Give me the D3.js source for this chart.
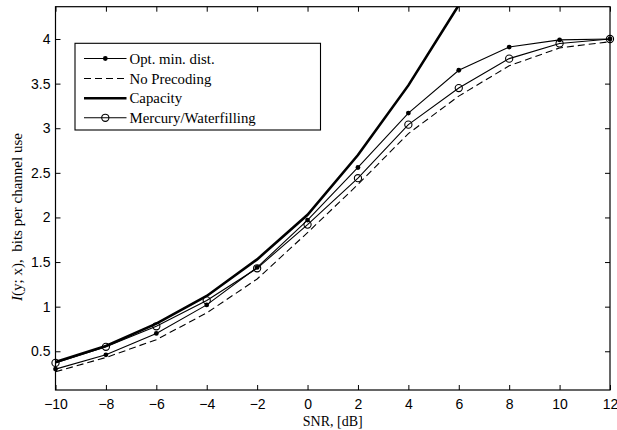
<!DOCTYPE html>
<html><head><meta charset="utf-8">
<script src="https://cdn.jsdelivr.net/npm/d3@7"></script>
<style>body{margin:0;background:#fff}svg{display:block}</style>
</head><body>
<svg id="c" width="617" height="430"></svg>
<script>
const snr = [-10,-8,-6,-4,-2,0,2,4,6,8,10,12];
const optMin = [0.30,0.46,0.70,1.02,1.44,1.97,2.56,3.17,3.65,3.91,3.99,4.00];
const noPrec = [0.27,0.43,0.63,0.93,1.31,1.83,2.37,2.94,3.36,3.70,3.90,3.97];
const capacity = [0.38,0.56,0.81,1.12,1.53,2.03,2.70,3.48,4.38,5.40,6.50,7.70];
const mercury = [0.37,0.55,0.78,1.07,1.43,1.92,2.44,3.04,3.45,3.78,3.95,4.00];
const xTicks = [-10,-8,-6,-4,-2,0,2,4,6,8,10,12];
const yTicks = [0.5,1,1.5,2,2.5,3,3.5,4];
const legendLabels = ["Opt. min. dist.","No Precoding","Capacity","Mercury/Waterfilling"];

const L=55.5,R=610,T=6.7,B=390;
const svg=d3.select("#c");
const x=d3.scaleLinear().domain([-10,12]).range([L,R]);
const y=d3.scaleLinear().domain([0.066,4.362]).range([B,T]);

svg.append("defs").append("clipPath").attr("id","clip")
  .append("rect").attr("x",L).attr("y",T).attr("width",R-L).attr("height",B-T);

const fmt=d=>String(d).replace("-","\u2212");
const tickFont="'Liberation Sans', Arial, sans-serif";
const gx=svg.append("g").attr("transform",`translate(0,${B})`)
  .call(d3.axisBottom(x).tickValues(xTicks).tickSize(-5).tickPadding(9).tickFormat(fmt));
const gxt=svg.append("g").attr("transform",`translate(0,${T})`)
  .call(d3.axisTop(x).tickValues(xTicks).tickSize(-5).tickFormat(""));
const gy=svg.append("g").attr("transform",`translate(${L},0)`)
  .call(d3.axisLeft(y).tickValues(yTicks).tickSize(-5).tickPadding(5).tickFormat(d=>d));
const gyr=svg.append("g").attr("transform",`translate(${R},0)`)
  .call(d3.axisRight(y).tickValues(yTicks).tickSize(-5).tickFormat(""));
[gx,gxt,gy,gyr].forEach(g=>{
  g.select(".domain").remove();
  g.selectAll("line").attr("stroke","#000").attr("stroke-width",1);
  g.selectAll("text").attr("font-family",tickFont).attr("font-size","14px").attr("fill","#000");
});
svg.append("rect").attr("x",L).attr("y",T).attr("width",R-L).attr("height",B-T)
  .attr("fill","none").attr("stroke","#000").attr("stroke-width",1.2);

const line=arr=>d3.line().x((d,i)=>x(snr[i])).y(d=>y(d))(arr);
const plot=svg.append("g").attr("clip-path","url(#clip)");
plot.append("path").attr("d",line(noPrec)).attr("fill","none").attr("stroke","#000")
  .attr("stroke-width",1.1).attr("stroke-dasharray","7,4");
plot.append("path").attr("d",line(capacity)).attr("fill","none").attr("stroke","#000")
  .attr("stroke-width",2.6);
plot.append("path").attr("d",line(optMin)).attr("fill","none").attr("stroke","#000").attr("stroke-width",1.1);
plot.append("path").attr("d",line(mercury)).attr("fill","none").attr("stroke","#000").attr("stroke-width",1.1);
svg.append("g").selectAll("circle").data(optMin).join("circle")
  .attr("cx",(d,i)=>x(snr[i])).attr("cy",d=>y(d)).attr("r",2.4).attr("fill","#000");
svg.append("g").selectAll("circle").data(mercury).join("circle")
  .attr("cx",(d,i)=>x(snr[i])).attr("cy",d=>y(d)).attr("r",3.6).attr("fill","none")
  .attr("stroke","#000").attr("stroke-width",1.1);

const serif="'Liberation Serif','Times New Roman',serif";
svg.append("text").attr("x",(L+R)/2).attr("y",426).attr("text-anchor","middle")
  .attr("font-family",serif).attr("font-size","14px").text("SNR, [dB]");
const yl=svg.append("text").attr("transform","translate(22,217) rotate(-90)")
  .attr("text-anchor","middle").attr("font-family",serif).attr("font-size","15px");
yl.append("tspan").attr("font-style","italic").text("I");
yl.append("tspan").text("(y; x),\u2002bits per channel use");

const lg=svg.append("g");
lg.append("rect").attr("x",75).attr("y",43.3).attr("width",245.5).attr("height",86.7)
  .attr("fill","#fff").attr("stroke","#000").attr("stroke-width",1.1);
const rows=[58.5,78.5,98.3,117.8];
legendLabels.forEach((lab,i)=>{
  const yy=rows[i];
  const ln=lg.append("line").attr("x1",84).attr("x2",126.5).attr("y1",yy).attr("y2",yy)
    .attr("stroke","#000").attr("stroke-width",i===2?2.6:1.1);
  if(i===1) ln.attr("stroke-dasharray","7,4");
  if(i===0) lg.append("circle").attr("cx",105.3).attr("cy",yy).attr("r",2.4).attr("fill","#000");
  if(i===3) lg.append("circle").attr("cx",105.3).attr("cy",yy).attr("r",3.6).attr("fill","none")
    .attr("stroke","#000").attr("stroke-width",1.1);
  lg.append("text").attr("x",129.5).attr("y",yy+5).attr("font-family",serif)
    .attr("font-size","14.8px").text(lab);
});
</script>
</body></html>
